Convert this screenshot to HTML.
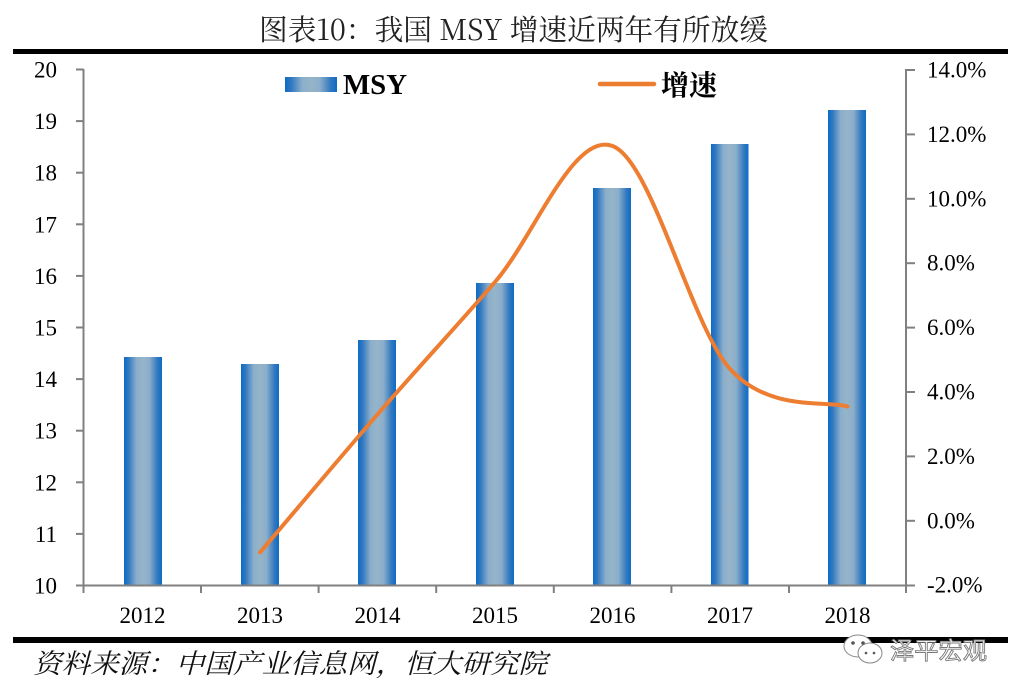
<!DOCTYPE html>
<html>
<head>
<meta charset="utf-8">
<style>
html,body{margin:0;padding:0;background:#fff;}
svg{display:block;}
</style>
</head>
<body>
<svg width="1023" height="695" viewBox="0 0 1023 695" xmlns="http://www.w3.org/2000/svg">
<defs>
<linearGradient id="bg" x1="0" y1="0" x2="1" y2="0">
<stop offset="0" stop-color="#0b6cc6"/>
<stop offset="0.12" stop-color="#3278c0"/>
<stop offset="0.33" stop-color="#8aaecb"/>
<stop offset="0.5" stop-color="#97b4c8"/>
<stop offset="0.67" stop-color="#8aaecb"/>
<stop offset="0.88" stop-color="#3278c0"/>
<stop offset="1" stop-color="#0b6cc6"/>
</linearGradient>
</defs>
<rect width="1023" height="695" fill="#fff"/>

<!-- title -->
<text x="259" y="40" font-family="'Noto Serif CJK SC','Liberation Serif',serif" font-size="29" fill="#222" textLength="509" lengthAdjust="spacingAndGlyphs">图表10：我国 MSY 增速近两年有所放缓</text>
<rect x="13" y="49" width="995" height="5" fill="#000"/>

<!-- bars -->
<g fill="url(#bg)">
<rect x="124" y="357" width="38" height="228.5"/>
<rect x="241" y="364" width="38" height="221.5"/>
<rect x="358" y="340" width="38" height="245.5"/>
<rect x="476" y="283" width="38" height="302.5"/>
<rect x="593" y="188" width="38" height="397.5"/>
<rect x="711" y="144" width="37.5" height="441.5"/>
<rect x="828" y="110" width="38" height="475.5"/>
</g>

<!-- axes -->
<g stroke="#808080" stroke-width="2" fill="none">
<line x1="83.5" y1="69" x2="83.5" y2="586"/>
<line x1="906" y1="69" x2="906" y2="586"/>
<line x1="76" y1="585.5" x2="915" y2="585.5"/>
<!-- left ticks -->
<line x1="76" y1="69.5" x2="83.5" y2="69.5"/>
<line x1="76" y1="121.1" x2="83.5" y2="121.1"/>
<line x1="76" y1="172.7" x2="83.5" y2="172.7"/>
<line x1="76" y1="224.3" x2="83.5" y2="224.3"/>
<line x1="76" y1="275.9" x2="83.5" y2="275.9"/>
<line x1="76" y1="327.5" x2="83.5" y2="327.5"/>
<line x1="76" y1="379.1" x2="83.5" y2="379.1"/>
<line x1="76" y1="430.7" x2="83.5" y2="430.7"/>
<line x1="76" y1="482.3" x2="83.5" y2="482.3"/>
<line x1="76" y1="533.9" x2="83.5" y2="533.9"/>
<!-- right ticks -->
<line x1="906" y1="70" x2="915" y2="70"/>
<line x1="906" y1="134.4" x2="915" y2="134.4"/>
<line x1="906" y1="198.8" x2="915" y2="198.8"/>
<line x1="906" y1="263.2" x2="915" y2="263.2"/>
<line x1="906" y1="327.6" x2="915" y2="327.6"/>
<line x1="906" y1="392" x2="915" y2="392"/>
<line x1="906" y1="456.4" x2="915" y2="456.4"/>
<line x1="906" y1="520.8" x2="915" y2="520.8"/>
<!-- category ticks -->
<line x1="83.5" y1="585" x2="83.5" y2="593"/>
<line x1="201" y1="585" x2="201" y2="593"/>
<line x1="318.6" y1="585" x2="318.6" y2="593"/>
<line x1="436.2" y1="585" x2="436.2" y2="593"/>
<line x1="553.8" y1="585" x2="553.8" y2="593"/>
<line x1="671.4" y1="585" x2="671.4" y2="593"/>
<line x1="789" y1="585" x2="789" y2="593"/>
<line x1="906" y1="585" x2="906" y2="593"/>
</g>

<!-- left labels -->
<g font-family="'Liberation Serif',serif" font-size="23" fill="#000" text-anchor="end">
<text x="57" y="77.5">20</text>
<text x="57" y="129.1">19</text>
<text x="57" y="180.7">18</text>
<text x="57" y="232.3">17</text>
<text x="57" y="283.9">16</text>
<text x="57" y="335.5">15</text>
<text x="57" y="387.1">14</text>
<text x="57" y="438.7">13</text>
<text x="57" y="490.3">12</text>
<text x="57" y="541.9">11</text>
<text x="57" y="593.5">10</text>
</g>
<!-- right labels -->
<g font-family="'Liberation Serif',serif" font-size="23" fill="#000">
<text x="927" y="77.5">14.0%</text>
<text x="927" y="141.9">12.0%</text>
<text x="927" y="206.3">10.0%</text>
<text x="927" y="270.7">8.0%</text>
<text x="927" y="335.1">6.0%</text>
<text x="927" y="399.5">4.0%</text>
<text x="927" y="463.9">2.0%</text>
<text x="927" y="528.3">0.0%</text>
<text x="927" y="592.7">-2.0%</text>
</g>
<!-- x labels -->
<g font-family="'Liberation Serif',serif" font-size="23" fill="#000" text-anchor="middle">
<text x="142.5" y="623">2012</text>
<text x="260" y="623">2013</text>
<text x="377.5" y="623">2014</text>
<text x="495" y="623">2015</text>
<text x="612.5" y="623">2016</text>
<text x="730" y="623">2017</text>
<text x="847.5" y="623">2018</text>
</g>

<!-- growth line -->
<path d="M260,552.4 C279.6,529.4 338.2,459.6 377.4,414.5 C416.6,369.4 455.8,327.2 495,282 C534.2,236.8 573.4,131 612.6,146 C651.8,160.5 690.8,325.6 730,369 C769.2,412.4 827.9,400.25 847.5,406.5" fill="none" stroke="#ed7d31" stroke-width="4" stroke-linecap="round" stroke-linejoin="round"/>

<!-- legend -->
<rect x="285" y="77" width="52" height="15" fill="url(#bg)"/>
<text x="343" y="94" font-family="'Liberation Serif',serif" font-weight="bold" font-size="29" fill="#000" textLength="64" lengthAdjust="spacingAndGlyphs">MSY</text>
<line x1="600" y1="84" x2="654" y2="84" stroke="#ed7d31" stroke-width="4.5" stroke-linecap="round"/>
<text x="661" y="95" font-family="'Noto Serif CJK SC',serif" font-weight="bold" font-size="28" fill="#000" textLength="56" lengthAdjust="spacingAndGlyphs">增速</text>

<!-- bottom rule & footer -->
<rect x="13" y="637" width="995" height="6" fill="#000"/>
<text x="33" y="673" font-family="'Liberation Serif','Noto Serif CJK SC',serif" font-style="italic" font-size="27" fill="#111" textLength="514" lengthAdjust="spacingAndGlyphs">资料来源：中国产业信息网，恒大研究院</text>

<!-- watermark -->
<g stroke="#8a8a8a" stroke-width="1" fill="#fff">
<ellipse cx="858" cy="646" rx="14" ry="11"/>
<ellipse cx="870" cy="653" rx="12" ry="10"/>
</g>
<g fill="#555">
<circle cx="853" cy="643" r="1.8"/>
<circle cx="863" cy="643" r="1.8"/>
<circle cx="866" cy="653" r="1.3"/>
<circle cx="874" cy="653" r="1.3"/>
</g>
<text x="890" y="659" font-family="'Noto Sans CJK SC',sans-serif" font-size="24" fill="#fff" stroke="#7a7a7a" stroke-width="0.9" textLength="97" lengthAdjust="spacingAndGlyphs">泽平宏观</text>
</svg>
</body>
</html>
